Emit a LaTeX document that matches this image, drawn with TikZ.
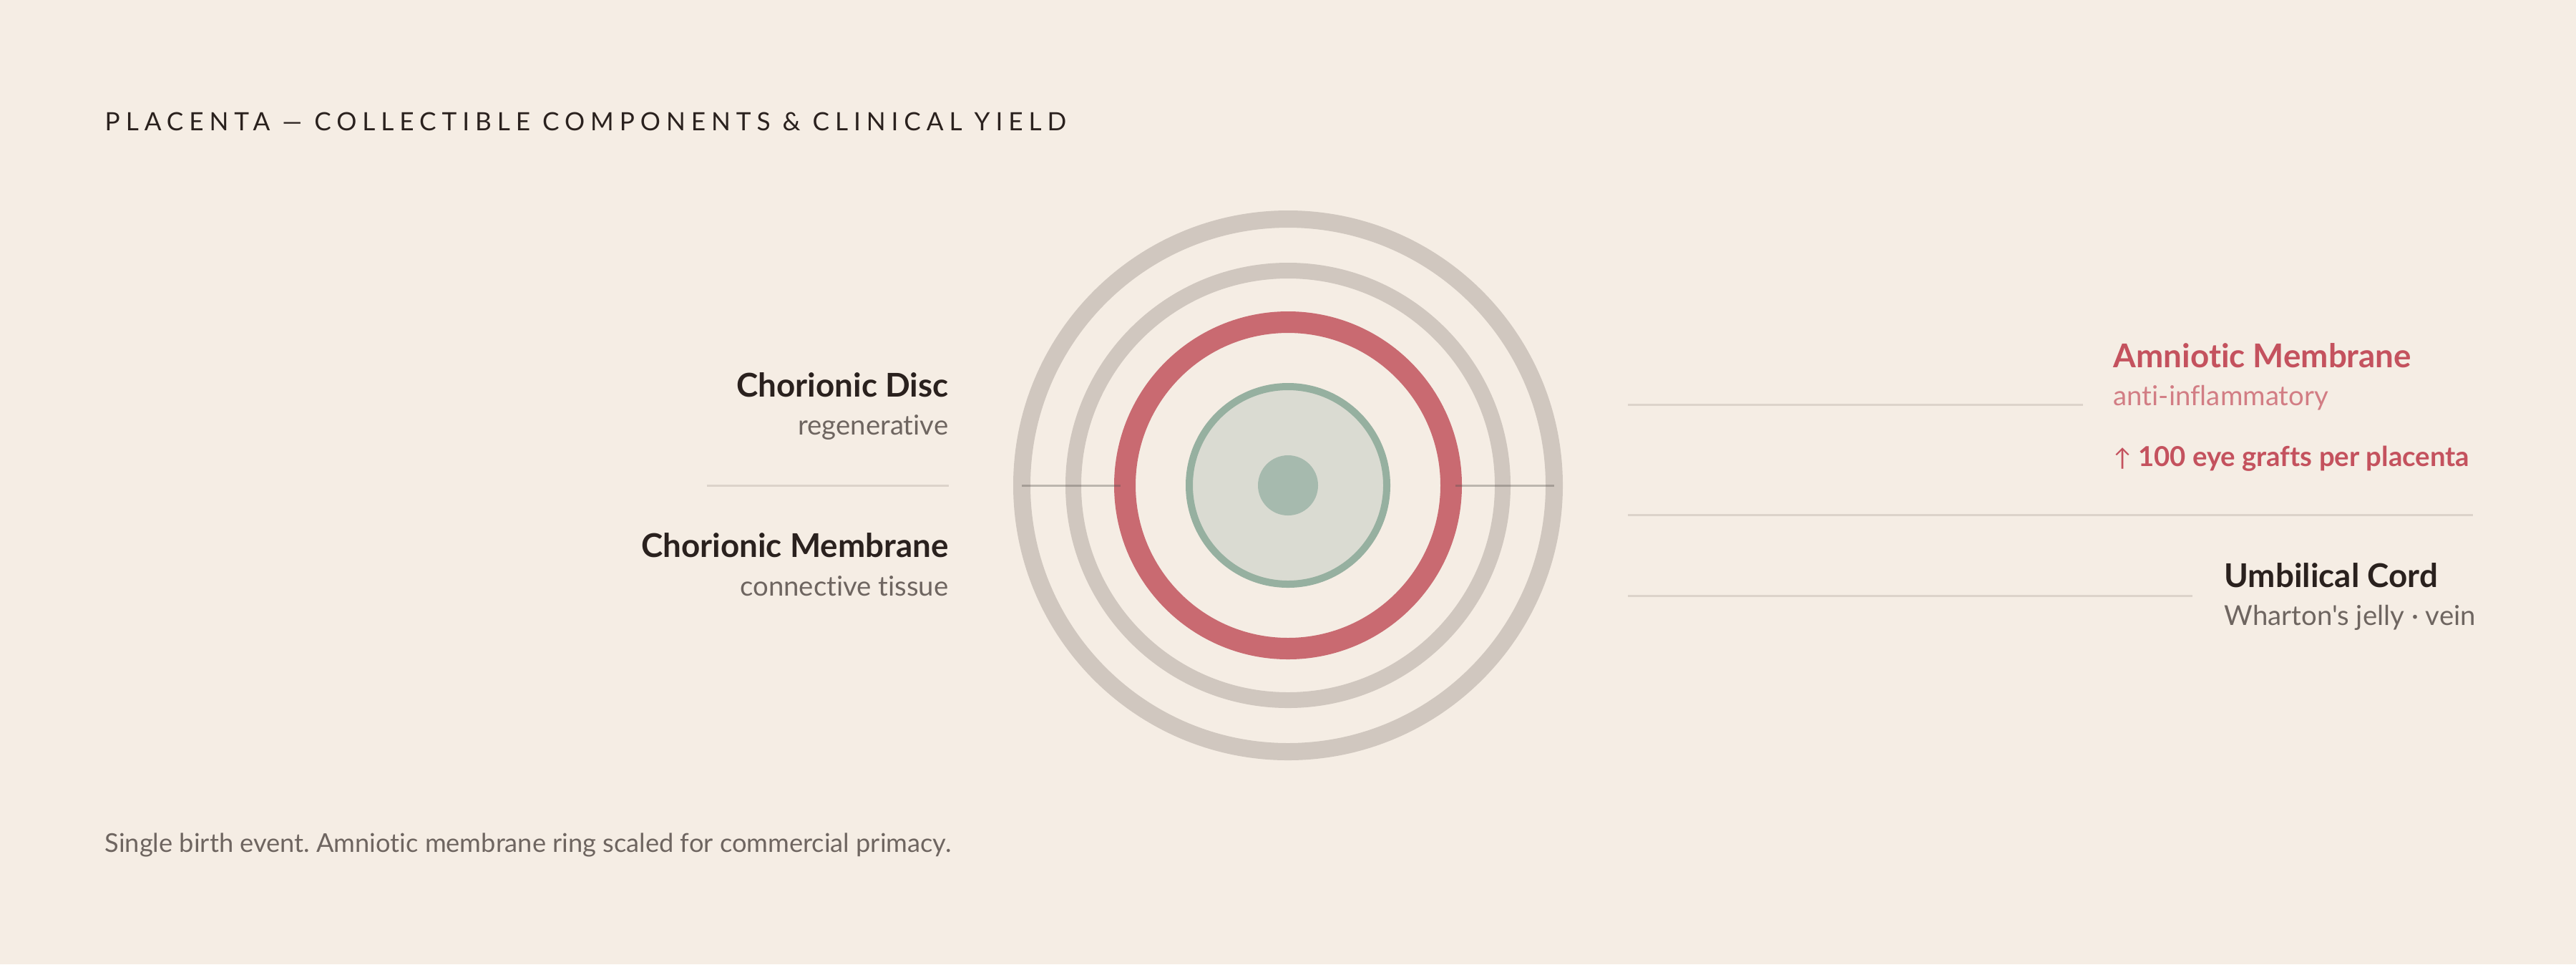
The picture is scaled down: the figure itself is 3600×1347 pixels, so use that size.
\documentclass[tikz,border=0pt]{standalone}
\usepackage{fontspec}
\setmainfont{Lato}
\newfontfamily\lato[Ligatures=NoCommon]{Lato}
\newfontfamily\spacedfont[LetterSpace=22.6]{Lato}
\usepackage{xcolor}
\usepackage{tikz}
\definecolor{paper}{HTML}{F5EDE4}
\definecolor{ink}{HTML}{2A211E}
\definecolor{muted}{HTML}{6E6560}
\definecolor{ringgray}{HTML}{D0C7BF}
\definecolor{ringred}{HTML}{C96A71}
\definecolor{amred}{HTML}{C4525E}
\definecolor{ampink}{HTML}{D27D84}
\definecolor{sage}{HTML}{96B0A0}
\definecolor{sagefill}{HTML}{DADBD2}
\definecolor{sagedot}{HTML}{A6BAAE}
\definecolor{rulegray}{HTML}{DCD3CA}
\frenchspacing

\begin{document}
\begin{tikzpicture}[x=0.01cm,y=-0.01cm,
  headtxt/.style={anchor=base west,inner sep=0pt,text=ink,font=\spacedfont\fontsize{10}{12}\selectfont},
  partname/.style={inner sep=0pt,text=ink,font=\lato\bfseries\fontsize{13}{15}\selectfont},
  partsub/.style={inner sep=0pt,text=muted,font=\lato\fontsize{10.9}{13}\selectfont},
  notetxt/.style={anchor=base west,inner sep=0pt,text=muted,font=\lato\fontsize{10.3}{12}\selectfont},
  leader/.style={draw=rulegray,line width=0.03cm},
  axisline/.style={draw=black!60!ringgray,opacity=0.35,line width=0.03cm}]
\useasboundingbox[fill=paper] (0,0) rectangle (3600,1347);

\node[headtxt] (head) at (146,182) {PLACENTA — COLLECTIBLE COMPONENTS \& CLINICAL YIELD};

% rings
\coordinate (c) at (1800,678);
\draw[ringgray,line width=0.24cm] (c) circle (372);
\draw[ringgray,line width=0.22cm] (c) circle (300);
\draw[ringred,line width=0.30cm] (c) circle (228);
\draw[sage,fill=sagefill,line width=0.10cm] (c) circle (138);
\fill[sagedot] (c) circle (42);

\coordinate (axl1) at (1428,678);
\coordinate (axl2) at (1566,678);
\coordinate (axr1) at (2034,678);
\coordinate (axr2) at (2172,678);
\draw[axisline] (axl1) -- (axl2);
\draw[axisline] (axr1) -- (axr2);

% left labels
\node[partname,anchor=base east] (disc) at (1326,554) {Chorionic Disc};
\node[partsub,anchor=base east] (discsub) at (1326,607) {regenerative};
\coordinate (sepl1) at (988,678);
\coordinate (sepl2) at (1326,678);
\draw[leader] (sepl1) -- (sepl2);
\node[partname,anchor=base east] (chm) at (1326,778) {Chorionic Membrane};
\node[partsub,anchor=base east] (chmsub) at (1326,832) {connective tissue};

% right labels
\coordinate (amw) at (2275,565);
\coordinate (ame) at (2911,565);
\draw[leader] (amw) -- (ame);
\node[partname,anchor=base west,text=amred] (amn) at (2953,513) {Amniotic Membrane};
\node[partsub,anchor=base west,text=ampink] (amnsub) at (2953,566) {anti-inflammatory};
\node[partname,anchor=base west,text=amred,font=\lato\bfseries\fontsize{10.9}{13}\selectfont] (yield) at (2953,651) {{\mdseries\fontsize{9.5}{12}\selectfont ↑} 100 eye grafts per placenta};
\coordinate (sepr1) at (2275,719);
\coordinate (sepr2) at (3456,719);
\draw[leader] (sepr1) -- (sepr2);
\coordinate (ucw) at (2275,832);
\coordinate (uce) at (3064,832);
\draw[leader] (ucw) -- (uce);
\node[partname,anchor=base west] (cord) at (3108,820) {Umbilical Cord};
\node[partsub,anchor=base west] (cordsub) at (3108,873) {Wharton's jelly · vein};

\node[notetxt] (foot) at (146,1190) {Single birth event. Amniotic membrane ring scaled for commercial primacy.};
\end{tikzpicture}
\end{document}
